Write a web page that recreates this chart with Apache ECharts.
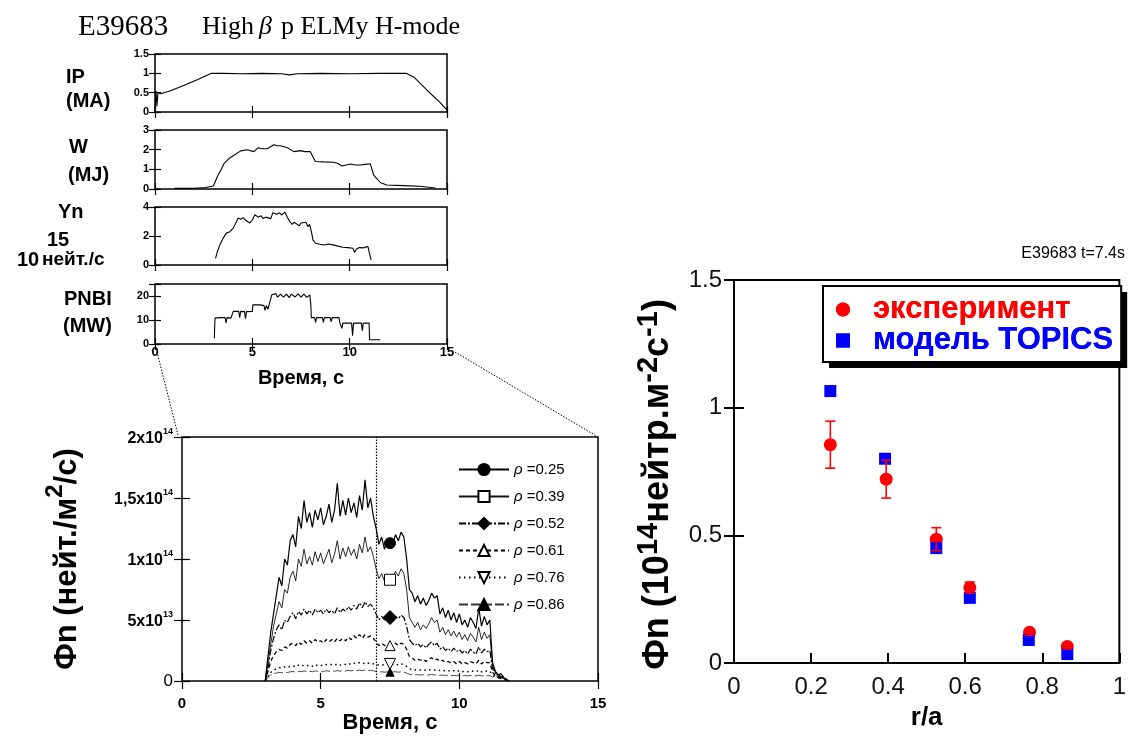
<!DOCTYPE html>
<html><head><meta charset="utf-8">
<script src="https://cdn.jsdelivr.net/npm/echarts@6/dist/echarts.min.js"></script>
<style>html,body{margin:0;padding:0;background:#fff;}#c{width:1129px;height:736px;}</style>
</head><body><div id="c"></div>
<script>
// ---------------- DATA ----------------
// Top panels: [time s, value]
const ipData = [[0,0],[0.05,0.55],[0.1,0.15],[0.15,0.5],[0.3,0.47],[0.8,0.55],[1.5,0.69],[2.2,0.84],[2.9,1.0],[3.5,1.0],[4.5,0.99],[5.5,1.0],[6.5,0.99],[6.9,0.96],[7.3,0.99],[8.5,1.0],[10,0.99],[11.5,1.0],[12.9,1.0],[13.3,0.9],[14,0.55],[14.6,0.27],[15,0.05]];
const wData = [[1.0,0.03],[2.0,0.03],[2.6,0.08],[3.0,0.15],[3.2,0.62],[3.4,1.0],[3.55,1.3],[3.8,1.55],[4.06,1.72],[4.4,1.94],[4.74,2.0],[5.08,1.9],[5.3,2.1],[5.5,2.05],[5.77,2.05],[6.1,2.25],[6.3,2.2],[6.45,2.2],[6.8,2.1],[7.13,1.9],[7.47,1.95],[7.7,1.9],[7.98,1.9],[8.24,1.4],[8.67,1.38],[9.18,1.36],[9.4,1.3],[9.6,1.17],[10.04,1.27],[10.3,1.22],[10.55,1.22],[10.8,1.25],[11.06,1.28],[11.23,0.72],[11.57,0.33],[11.9,0.2],[12.77,0.17],[13.6,0.14],[14.4,0.05]];
const ynData = [[3.11,0.46],[3.2,0.9],[3.33,1.39],[3.5,1.85],[3.67,2.2],[3.85,2.3],[4.02,2.55],[4.15,2.9],[4.27,3.24],[4.4,3.15],[4.53,3.27],[4.7,3.05],[4.87,2.9],[5.0,3.1],[5.13,3.47],[5.3,3.3],[5.45,3.4],[5.55,3.2],[5.7,3.3],[5.8,3.35],[5.95,3.2],[6.05,3.6],[6.15,3.7],[6.25,3.5],[6.4,3.6],[6.5,3.45],[6.67,3.65],[6.8,3.3],[6.92,3.0],[7.05,2.8],[7.15,2.95],[7.26,2.85],[7.4,2.7],[7.5,2.9],[7.6,2.8],[7.75,2.95],[7.85,2.65],[7.94,2.8],[8.05,2.2],[8.11,1.73],[8.25,1.5],[8.46,1.43],[8.7,1.38],[8.9,1.45],[9.14,1.39],[9.4,1.3],[9.65,1.22],[9.9,1.2],[10.17,1.16],[10.25,0.87],[10.35,1.1],[10.5,1.2],[10.7,1.18],[10.8,1.27],[10.94,1.27],[11.0,0.9],[11.1,0.35]];
const pnbiData = [[3.05,2.4],[3.08,10.8],[3.3,11],[3.6,11],[3.65,8.8],[3.7,11],[3.9,10.8],[4.0,11],[4.02,13.6],[4.3,13.6],[4.35,11],[4.4,13.6],[4.6,13.5],[4.65,10.5],[4.7,13.5],[5.0,13.6],[5.03,16.3],[5.4,16.3],[5.6,16],[5.65,14],[5.72,16],[5.8,14.5],[5.85,16],[5.95,16],[6.0,20.5],[6.2,21],[6.3,19.5],[6.45,20.8],[6.6,19.5],[6.75,20.8],[6.9,19.3],[7.0,20.8],[7.2,19.6],[7.35,20.9],[7.5,19.5],[7.65,20.8],[7.8,19.4],[7.95,20.5],[8.0,17],[8.03,11],[8.2,11],[8.25,9],[8.3,11],[8.6,11],[8.65,9],[8.7,11],[9.0,11],[9.05,9.3],[9.1,11],[9.45,11],[9.5,8.7],[9.55,8.7],[9.6,6.5],[9.65,8.7],[10.1,8.7],[10.15,3.5],[10.2,8.7],[10.6,8.7],[10.65,5.5],[10.7,8.7],[11.0,8.7],[11.02,1.8],[11.57,1.8]];

// Neutron flux time traces (units of 1e13 n/m2/s)
const fluxTime = [3.0,3.1,3.2,3.3,3.4,3.5,3.6,3.7,3.8,3.9,
 4.0,4.1,4.2,4.3,4.4,4.5,4.6,4.7,4.8,4.9,
 5.0,5.1,5.2,5.3,5.4,5.5,5.6,5.7,5.8,5.9,
 6.0,6.1,6.2,6.3,6.4,6.5,6.6,6.7,6.8,6.9,
 7.0,7.1,7.2,7.3,7.4,7.5,7.6,7.7,7.8,7.9,
 8.0,8.1,8.2,8.3,8.4,8.5,8.6,8.7,8.8,8.9,
 9.0,9.1,9.2,9.3,9.4,9.5,9.6,9.7,9.8,9.9,
 10.0,10.1,10.2,10.3,10.4,10.5,10.6,10.7,10.8,10.9,
 11.0,11.1,11.2,11.3,11.4,11.5,11.6,11.7,11.8];
const flux025 = [0,2,4,5.5,7,8.5,7.8,10,9.5,11.5,
 12,11,13.5,12.5,14.8,13,13.8,12.6,14,13.2,
 14.2,12.8,13.5,14.5,13,14,16.2,13.5,14.8,13.6,
 15,13.8,14.6,13.4,15.2,14,16.5,14.2,15,13.5,
 12.5,11.2,11.8,10.8,11.5,11.3,11.2,12,11.5,12.2,
 11.8,10,7.5,7.2,6.5,7,6.3,6.8,6.2,6.6,
 7.2,6.8,7,5.5,6,5.2,5.8,5,5.6,4.8,
 5.5,4.6,5,4.4,5.2,4.8,4.3,6,4.5,5.3,
 4.6,5,1.5,0.8,0.5,0.6,0.3,0.1,0];
const flux039 = [0,1.5,3,4.5,5.5,6.5,6,7.5,7.2,8.5,
 9,8.2,10,9.4,10.8,9.6,10.2,9.5,10.6,9.8,
 10.5,9.6,10.2,10.8,9.7,10.4,11.5,10,10.9,10.2,
 11,10.3,10.8,10,11.2,10.5,11.8,10.6,11,10.2,
 9.2,8.4,8.8,8.2,8.6,8.3,8.5,9,8.6,9.2,
 8.8,7.5,5.2,4.8,4.4,4.8,4.2,4.6,4.3,4.7,
 5.2,4.8,5,4,4.4,3.8,4.2,3.7,4.1,3.6,
 4,3.4,3.8,3.3,3.9,3.6,3.2,4.4,3.4,4,
 3.5,3.8,1.2,0.7,0.5,0.4,0.2,0.1,0];
const flux052 = [0,1,2.5,3.5,4.2,4.6,4.2,5,4.8,5.3,
 5.6,5.1,5.7,5.4,5.9,5.5,5.8,5.4,5.9,5.6,
 5.8,5.5,5.9,5.6,5.8,5.5,6,5.6,5.9,5.7,
 6.1,5.8,6.2,5.9,6.4,6,6.5,6.1,6.3,6,
 5.5,5,5.3,5,5.2,5.2,5.2,5.3,5.1,5.4,
 5.2,4.5,3.4,3.1,2.9,3.1,2.8,3,2.7,3,
 3.2,2.9,3.1,2.6,2.8,2.5,2.7,2.4,2.7,2.4,
 2.6,2.3,2.5,2.2,2.6,2.4,2.2,2.8,2.3,2.6,
 2.4,2.5,1,0.6,0.4,0.3,0.2,0.1,0];
const flux061 = [0,0.8,1.6,2.1,2.4,2.6,2.5,2.8,2.7,3,
 3.1,2.9,3.2,3,3.3,3.1,3.3,3.1,3.4,3.2,
 3.3,3.1,3.4,3.2,3.4,3.2,3.5,3.3,3.5,3.3,
 3.6,3.4,3.7,3.5,3.8,3.5,3.8,3.6,3.7,3.5,
 3.2,2.9,3.1,2.9,3,2.9,3,3.1,2.9,3.1,
 3,2.6,2,1.9,1.7,1.8,1.7,1.8,1.6,1.8,
 1.9,1.7,1.8,1.6,1.7,1.5,1.6,1.5,1.6,1.4,
 1.6,1.4,1.5,1.4,1.6,1.5,1.4,1.7,1.4,1.6,
 1.5,1.5,0.7,0.4,0.3,0.2,0.1,0.1,0];
const flux076 = [0,0.4,0.7,0.9,1.0,1.1,1.05,1.15,1.1,1.2,
 1.25,1.15,1.3,1.2,1.3,1.25,1.3,1.2,1.35,1.25,
 1.3,1.25,1.35,1.3,1.35,1.3,1.4,1.3,1.4,1.35,
 1.45,1.35,1.45,1.4,1.5,1.4,1.5,1.45,1.5,1.4,
 1.35,1.3,1.35,1.3,1.4,1.4,1.35,1.4,1.3,1.4,
 1.35,1.2,1.0,0.95,0.9,0.95,0.9,0.95,0.85,0.9,
 0.95,0.9,0.95,0.85,0.9,0.8,0.85,0.8,0.85,0.75,
 0.85,0.75,0.8,0.75,0.85,0.8,0.75,0.9,0.75,0.85,
 0.8,0.8,0.5,0.3,0.6,0.2,0.4,0.1,0];
const flux086 = [0,0.3,0.5,0.6,0.65,0.7,0.68,0.72,0.7,0.75,
 0.78,0.72,0.8,0.76,0.82,0.78,0.8,0.76,0.83,0.79,
 0.82,0.78,0.84,0.8,0.83,0.8,0.86,0.8,0.85,0.82,
 0.88,0.83,0.88,0.84,0.9,0.85,0.9,0.86,0.88,0.84,
 0.78,0.72,0.76,0.72,0.75,0.72,0.74,0.76,0.72,0.76,
 0.73,0.65,0.55,0.52,0.5,0.52,0.49,0.51,0.48,0.5,
 0.53,0.5,0.51,0.47,0.49,0.45,0.47,0.44,0.46,0.43,
 0.46,0.42,0.45,0.42,0.46,0.44,0.42,0.48,0.42,0.45,
 0.43,0.44,0.3,0.5,0.2,0.4,0.1,0.2,0];
const rhoLabels = ['0.25','0.39','0.52','0.61','0.76','0.86'];
const profileTime = 7.0;   // dotted line
const markerTime = 7.5;    // markers on traces

// Radial profile at t = 7.4 s (units 1e14)
const expRadius = [0.25, 0.395, 0.525, 0.612, 0.767, 0.865];
const expFlux   = [0.855, 0.72, 0.485, 0.295, 0.12, 0.065];
const expError  = [0.092, 0.074, 0.045, 0.022, 0.012, 0.01];
const modelRadius = [0.25, 0.392, 0.525, 0.612, 0.765, 0.865];
const modelFlux   = [1.065, 0.80, 0.45, 0.255, 0.09, 0.035];

// ---------------- CHART ----------------
const SANS = '"Liberation Sans", Arial, sans-serif';
const SERIF = '"Liberation Serif", "Times New Roman", serif';
const chart = echarts.init(document.getElementById('c'), null, {renderer: 'canvas'});

const grids = [
  {left: 155, top: 54, width: 292, height: 58},
  {left: 155, top: 130, width: 292, height: 59},
  {left: 155, top: 207, width: 292, height: 58},
  {left: 155, top: 284, width: 292, height: 60},
  {left: 182, top: 437, width: 416, height: 244},
  {left: 734, top: 280, width: 388, height: 383}
].map(g => Object.assign({show: true, borderColor: '#000', borderWidth: 1.5, backgroundColor: 'transparent'}, g));
grids[5].borderWidth = 2;

const xAxes = [], yAxes = [];
function addAxes(gi, xr, yr, o) {
  const tickStyle = {color: '#000', width: o.tickWidth || 1.2};
  xAxes.push({gridIndex: gi, type: 'value', min: xr[0], max: xr[1], interval: xr[2], position: 'bottom',
    axisLine: {show: false}, splitLine: {show: false},
    axisTick: {show: true, inside: true, length: o.tickLen, lineStyle: tickStyle},
    axisLabel: Object.assign({show: o.xLabels !== false, color: '#000', fontFamily: SANS}, o.xLabel || {}),
    name: o.xName || '', nameLocation: 'middle', nameGap: o.xNameGap || 25, nameTextStyle: o.xNameStyle || {}});
  xAxes.push({gridIndex: gi, type: 'value', min: xr[0], max: xr[1], interval: xr[2], position: 'top',
    axisLine: {show: false}, splitLine: {show: false},
    axisTick: {show: o.topTicks !== false, inside: true, length: o.tickLen, lineStyle: tickStyle},
    axisLabel: {show: false}});
  yAxes.push({gridIndex: gi, type: 'value', min: yr[0], max: yr[1], interval: yr[2], position: 'left',
    axisLine: {show: false}, splitLine: {show: false},
    axisTick: {show: true, inside: true, length: o.tickLen, lineStyle: tickStyle},
    axisLabel: Object.assign({show: true, color: '#000', fontFamily: SANS}, o.yLabel || {}),
    name: o.yName || '', nameLocation: 'middle', nameRotate: 90, nameGap: o.yNameGap || 30, nameTextStyle: o.yNameStyle || {}});
  yAxes.push({gridIndex: gi, type: 'value', min: yr[0], max: yr[1], interval: yr[2], position: 'right',
    axisLine: {show: false}, splitLine: {show: false},
    axisTick: {show: true, inside: true, length: o.tickLen, lineStyle: tickStyle},
    axisLabel: {show: false}});
}
const smallLab = {fontSize: 11, fontWeight: 'bold', margin: 6};
addAxes(0, [0, 15, 5], [0, 1.5, 0.5], {tickLen: 6, xLabels: false, yLabel: smallLab});
addAxes(1, [0, 15, 5], [0, 3, 1], {tickLen: 6, xLabels: false, yLabel: smallLab});
addAxes(2, [0, 15, 5], [0, 4, 2], {tickLen: 6, xLabels: false, yLabel: smallLab});
addAxes(3, [0, 15, 5], [0, 25, 10], {tickLen: 6,
  xLabel: {fontSize: 13, fontWeight: 'bold', margin: 2},
  yLabel: Object.assign({}, smallLab, {formatter: v => (v % 10 === 0 ? String(v) : '')}),
  xName: 'Время, с', xNameGap: 24, xNameStyle: {fontSize: 20, fontWeight: 'bold', fontFamily: SANS, color: '#000'}});
const fluxLabels = {20: '{m|2x10}{s|14}', 15: '{m|1,5x10}{s|14}', 10: '{m|1x10}{s|14}', 5: '{m|5x10}{s|13}', 0: '{z|0}'};
addAxes(4, [0, 15, 5], [0, 20, 5], {tickLen: 8,
  xLabel: {fontSize: 15, fontWeight: 'bold', margin: 15},
  yLabel: {margin: 9, formatter: v => fluxLabels[v] || '', rich: {
    m: {fontSize: 16, fontWeight: 'bold', fontFamily: SANS, color: '#000', lineHeight: 20, verticalAlign: 'bottom'},
    s: {fontSize: 9, fontWeight: 'bold', fontFamily: SANS, color: '#000', lineHeight: 9, verticalAlign: 'top'},
    z: {fontSize: 17, fontFamily: SANS, color: '#000'}}},
  xName: 'Время, с', xNameGap: 28, xNameStyle: {fontSize: 22, fontWeight: 'bold', fontFamily: SANS, color: '#000'},
  yName: '{b|Фn (нейт./м}{p|2}{b|/с)}', yNameGap: 99, yNameStyle: {rich: {
    b: {fontSize: 31, fontWeight: 'bold', fontFamily: SANS, color: '#000', lineHeight: 40, verticalAlign: 'bottom'},
    p: {fontSize: 24, fontWeight: 'bold', fontFamily: SANS, color: '#000', lineHeight: 24, verticalAlign: 'top'}}}});
addAxes(5, [0, 1, 0.2], [0, 1.5, 0.5], {tickLen: 10, tickWidth: 2, topTicks: false,
  xLabel: {fontSize: 24, margin: 12, color: '#111'},
  yLabel: {fontSize: 24, margin: 12, color: '#111'},
  xName: 'r/a', xNameGap: 42, xNameStyle: {fontSize: 26, fontWeight: 'bold', fontFamily: SANS, color: '#000'},
  yName: '{b|Фn (10}{p|14}{b|нейтр.м}{p|-2}{b|с}{p|-1}{b|)}', yNameGap: 58, yNameStyle: {padding: [0, 26, 0, 0], rich: {
    b: {fontSize: 36, fontWeight: 'bold', fontFamily: SANS, color: '#000', lineHeight: 42, verticalAlign: 'bottom'},
    p: {fontSize: 29, fontWeight: 'bold', fontFamily: SANS, color: '#000', lineHeight: 28, verticalAlign: 'top'}}}});

function trace(data, gi) {
  return {type: 'line', xAxisIndex: gi * 2, yAxisIndex: gi * 2, data: data, showSymbol: false, symbol: 'none',
    lineStyle: {color: '#000', width: 1.1}, silent: true, animation: false, z: 3};
}

const fluxSeriesDefs = [
  {vals: flux025, symbol: 'circle', size: 11, fill: '#000', line: {width: 1.2, type: 'solid', color: '#000'}},
  {vals: flux039, symbol: 'rect', size: 11, fill: '#fff', line: {width: 0.9, type: 'solid', color: '#111'}},
  {vals: flux052, symbol: 'diamond', size: 14, fill: '#000', line: {width: 1.2, type: [7, 2, 2, 2], color: '#000'}},
  {vals: flux061, symbol: 'triangle', size: 10, fill: '#fff', line: {width: 1.3, type: [4, 3], color: '#000'}},
  {vals: flux076, symbol: 'path://M0,0L2,0L1,1.8Z', size: 11, fill: '#fff', line: {width: 1.5, type: [1.5, 3.5], color: '#000'}},
  {vals: flux086, symbol: 'triangle', size: 8, fill: '#000', line: {width: 0.9, type: [9, 3], color: '#333'}}
];
const fluxSeries = fluxSeriesDefs.map((d, k) => ({
  type: 'line', name: 'ρ=' + rhoLabels[k], xAxisIndex: 8, yAxisIndex: 8,
  symbol: d.symbol, symbolSize: d.size, showSymbol: true, showAllSymbol: true,
  itemStyle: {color: d.fill, borderColor: '#000', borderWidth: 1},
  lineStyle: d.line, silent: true, animation: false, z: 3 + (6 - k) * 0.01,
  data: fluxTime.map((t, i) => t === markerTime ? {value: [t, d.vals[i]]} : {value: [t, d.vals[i]], symbol: 'none'})
}));
fluxSeries[0].markLine = {silent: true, symbol: 'none', label: {show: false},
  lineStyle: {color: '#000', type: [1.5, 1.5], width: 1.2}, data: [{xAxis: profileTime}]};

const series = [
  trace(ipData, 0), trace(wData, 1), trace(ynData, 2), trace(pnbiData, 3),
  ...fluxSeries,
  {type: 'scatter', name: 'эксперимент', xAxisIndex: 10, yAxisIndex: 10, symbol: 'circle', symbolSize: 13,
   itemStyle: {color: '#ff0000', opacity: 1}, z: 3, silent: true,
   data: expRadius.map((r, i) => [r, expFlux[i]])},
  {type: 'scatter', name: 'модель TOPICS', xAxisIndex: 10, yAxisIndex: 10, symbol: 'rect', symbolSize: 12,
   itemStyle: {color: '#0000ff', opacity: 1}, z: 4, silent: true,
   data: modelRadius.map((r, i) => [r, modelFlux[i]])},
  {type: 'custom', name: 'errors', xAxisIndex: 10, yAxisIndex: 10, z: 5, silent: true,
   data: expRadius.map((r, i) => [r, expFlux[i], expError[i]]),
   renderItem: (params, api) => {
     const x = api.value(0), y = api.value(1), e = api.value(2);
     const a = api.coord([x, y + e]), b = api.coord([x, y - e]);
     const st = {stroke: '#ff0000', lineWidth: 1.6};
     return {type: 'group', children: [
       {type: 'line', shape: {x1: a[0], y1: a[1], x2: b[0], y2: b[1]}, style: st},
       {type: 'line', shape: {x1: a[0] - 5, y1: a[1], x2: a[0] + 5, y2: a[1]}, style: st},
       {type: 'line', shape: {x1: b[0] - 5, y1: b[1], x2: b[0] + 5, y2: b[1]}, style: st}]};
   }}
];

function txt(id, text, x, y, font, opts) {
  return Object.assign({type: 'text', id: id, x: x, y: y, silent: true,
    style: Object.assign({text: text, font: font, fill: '#000', textAlign: 'left', textVerticalAlign: 'middle'}, opts || {})});
}
const B21 = 'bold 20px ' + SANS;
const texts = [
  txt('t1', 'E39683', 78, 27, '29px ' + SERIF),
  txt('t2', 'High', 202, 27, '26px ' + SERIF),
  txt('t3', 'β', 259, 27, 'italic 26px ' + SERIF),
  txt('t4', 'p ELMy H-mode', 281, 27, '26px ' + SERIF),
  txt('l1', 'IP', 66, 77, B21), txt('l2', '(MA)', 66, 101, B21),
  txt('l3', 'W', 69, 147, B21), txt('l4', '(MJ)', 68, 175, B21),
  txt('l5', 'Yn', 58, 212, B21), txt('l6', '15', 47, 240, B21),
  txt('l7', '10', 17, 260, B21), txt('l8', 'нейт./с', 42, 260, 'bold 19px ' + SANS),
  txt('l9', 'PNBI', 64, 299, B21), txt('l10', '(MW)', 63, 326, B21),
  txt('r1', 'E39683 t=7.4s', 1125, 254, '16px ' + SANS, {textAlign: 'right'})
];

const profLegendData = [{name: 'эксперимент', textStyle: {color: '#ff0000'}}, {name: 'модель TOPICS', textStyle: {color: '#0000ff'}}];
const profLegendBase = {orient: 'vertical', left: 823, top: 286, itemWidth: 14, itemHeight: 14, itemGap: 0,
  selectedMode: false, padding: [8, 8, 6, 13], data: profLegendData,
  textStyle: {fontSize: 31, fontWeight: 'bold', fontFamily: SANS, lineHeight: 26, padding: [0, 0, 0, 18]}};

const option = {
  animation: false,
  backgroundColor: '#fff',
  grid: grids, xAxis: xAxes, yAxis: yAxes, series: series,
  legend: [
    {orient: 'vertical', left: 453, top: 457, itemWidth: 50, itemHeight: 14, itemGap: 12,
     selectedMode: false, data: rhoLabels.map(r => 'ρ=' + r),
     formatter: name => '{i|ρ}{n| =' + name.split('=')[1] + '}',
     textStyle: {rich: {i: {fontStyle: 'italic', fontSize: 15, fontFamily: SANS, color: '#000'},
                        n: {fontSize: 15, fontFamily: SANS, color: '#000'}}}},
    Object.assign({}, profLegendBase, {backgroundColor: '#fff', borderWidth: 0,
      shadowColor: '#000', shadowBlur: 0, shadowOffsetX: 6, shadowOffsetY: 6}),
    Object.assign({}, profLegendBase, {backgroundColor: 'transparent', borderColor: '#000', borderWidth: 2})
  ],
  graphic: {elements: texts}
};
chart.setOption(option);

// dotted zoom connectors between the PNBI panel and the flux panel
const p1 = chart.convertToPixel({xAxisIndex: 6, yAxisIndex: 6}, [0, 0]);
const p2 = chart.convertToPixel({xAxisIndex: 6, yAxisIndex: 6}, [15, 0]);
const q1 = chart.convertToPixel({xAxisIndex: 8, yAxisIndex: 8}, [0, 20]);
const q2 = chart.convertToPixel({xAxisIndex: 8, yAxisIndex: 8}, [15, 20]);
chart.setOption({graphic: {elements: [
  {type: 'line', id: 'c1', silent: true, shape: {x1: p1[0] + 2, y1: p1[1] + 8, x2: q1[0] - 4, y2: q1[1] - 2}, style: {stroke: '#000', lineWidth: 1, lineDash: [1.5, 1.5]}},
  {type: 'line', id: 'c2', silent: true, shape: {x1: p2[0] + 8, y1: p2[1] + 8, x2: q2[0], y2: q2[1]}, style: {stroke: '#000', lineWidth: 1, lineDash: [1.5, 1.5]}}
]}});
</script>
</body></html>
